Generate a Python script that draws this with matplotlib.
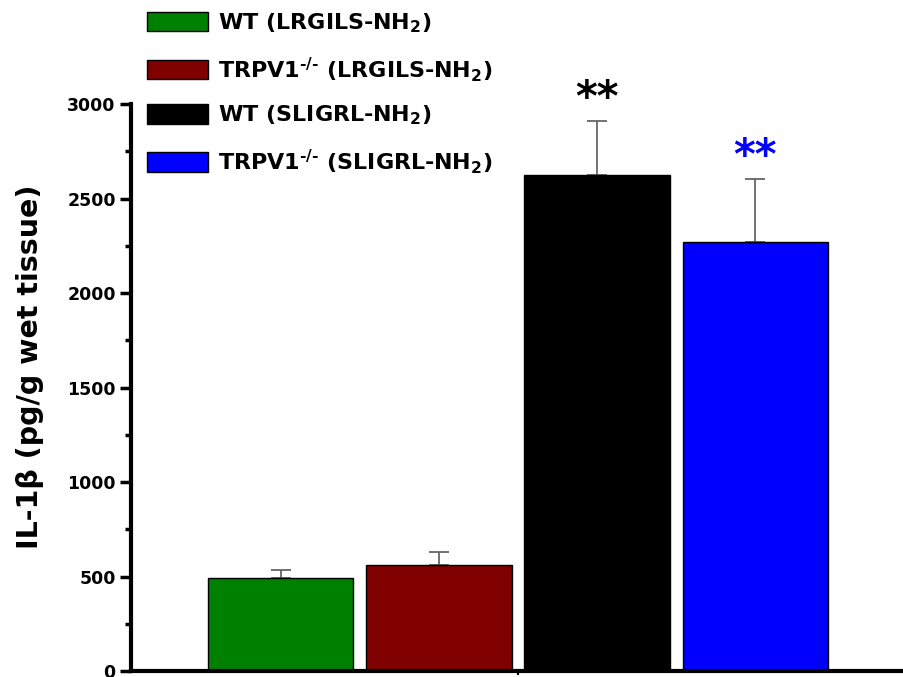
import numpy as np
import matplotlib
matplotlib.use('Agg')
import matplotlib.pyplot as plt
from matplotlib.patches import Patch
from matplotlib.ticker import MultipleLocator

plt.rcParams['font.family'] = ['DejaVu Sans']
plt.rcParams['font.weight'] = 'bold'
plt.rcParams['mathtext.fontset'] = 'custom'
plt.rcParams['mathtext.rm'] = 'DejaVu Sans:bold'
plt.rcParams['mathtext.bf'] = 'DejaVu Sans:bold'
plt.rcParams['mathtext.default'] = 'bf'

# data
groups = ['WT (LRGILS-NH$_2$)', 'TRPV1$^{\\text{-/-}}$ (LRGILS-NH$_2$)',
          'WT (SLIGRL-NH$_2$)', 'TRPV1$^{\\text{-/-}}$ (SLIGRL-NH$_2$)']
means = [490, 560, 2625, 2270]
errs = [45, 72, 285, 335]
colors = ['#008000', '#800000', '#000000', '#0000ff']
stars = ['', '', '**', '**']
star_colors = ['k', 'k', 'k', '#0000ff']

fig = plt.figure(figsize=(9.04, 6.77), dpi=100)
ax = fig.add_axes([131/904, 1 - 671/677, (905 - 131)/904, (671 - 104)/677])

x = np.arange(1, len(means) + 1)
ax.bar(x, means, width=0.918, color=colors, edgecolor='black', linewidth=1.0, zorder=2)
ax.errorbar(x, means, yerr=[np.zeros(len(errs)), errs], fmt='none', ecolor='#666666',
            elinewidth=1.3, capsize=7, capthick=1.3, zorder=1)

for xi, m, e, s, c in zip(x, means, errs, stars, star_colors):
    if s:
        ax.text(xi, m + e + 115, s, ha='center', va='center', fontsize=30,
                fontweight='bold', color=c, clip_on=False)

ax.set_xlim(0.051, 4.949)
ax.set_ylim(0, 3000)
ax.set_xticks([2.5])
ax.set_xticklabels([''])
ax.yaxis.set_major_locator(MultipleLocator(500))
ax.yaxis.set_minor_locator(MultipleLocator(250))
ax.tick_params(axis='y', which='major', length=8, width=2.5, labelsize=12.5, pad=3)
ax.tick_params(axis='y', which='minor', length=4, width=2.5)
ax.tick_params(axis='x', which='major', length=3, width=1.5)
for lab in ax.get_yticklabels():
    lab.set_fontweight('bold')
ax.spines['top'].set_visible(False)
ax.spines['right'].set_visible(False)
ax.spines['left'].set_linewidth(3)
ax.spines['bottom'].set_linewidth(3)

fig.text(30/904, 1 - 367/677, 'IL-1β (pg/g wet tissue)', rotation=90,
         ha='center', va='center', fontsize=20.5, fontweight='bold')

handles = [Patch(facecolor=c, edgecolor='black', linewidth=1.0) for c in colors]
fig.legend(handles, groups, loc='upper left', bbox_to_anchor=(136/904, 1.0),
           frameon=False, handlelength=2.75, handleheight=1.0,
           handletextpad=0.45, labelspacing=0.9, borderaxespad=0.1,
           prop={'weight': 'bold', 'size': 16})

fig.savefig('out.png', dpi=100)
